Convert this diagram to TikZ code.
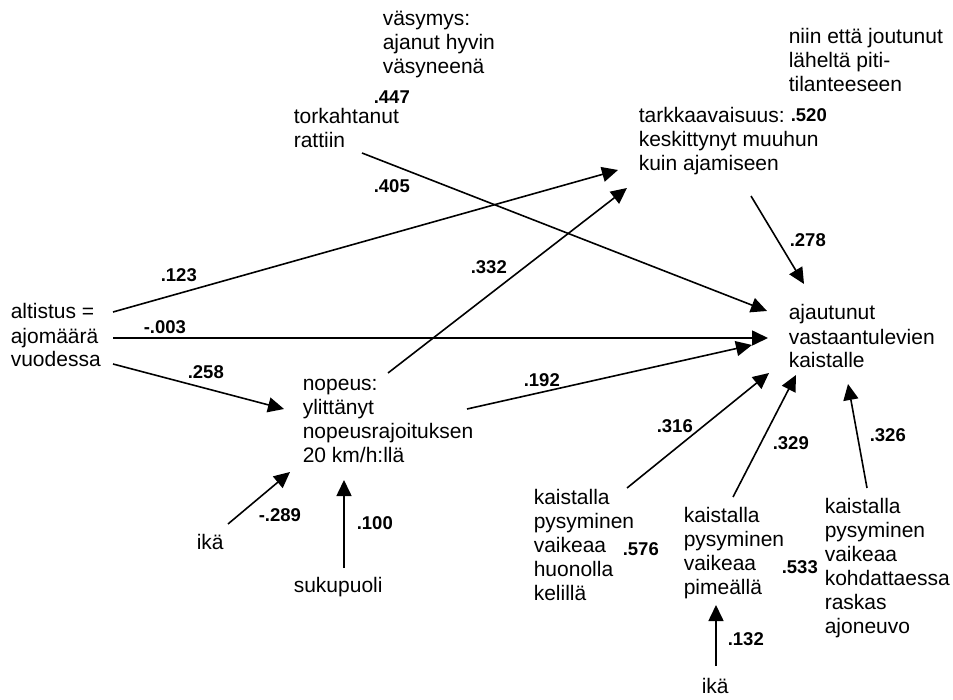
\documentclass[tikz,border=0pt]{standalone}
\usepackage{fontspec}
\setmainfont{Liberation Sans}
\usetikzlibrary{arrows.meta}

\begin{document}
\begin{tikzpicture}[x=1pt, y=-1pt, line width=1.6pt, >={Triangle[length=16pt,width=15pt]}]
            \useasboundingbox (0,0) rectangle (953,700);
            % texts, placed at the baseline of their last line
            \begin{scope}[every node/.style={anchor=base west, align=left, inner sep=0pt, font=\fontsize{21}{24}\selectfont}]
            \node (vasy) at (382,74) {väsymys:\\ajanut hyvin\\väsyneenä};
            \node (tork) at (293,148) {torkahtanut\\rattiin};
            \node (niin) at (788,92) {niin että joutunut\\läheltä piti-\\tilanteeseen};
            \node (tark) at (638,171) {tarkkaavaisuus:\\keskittynyt muuhun\\kuin ajamiseen};
            \node (alt) at (10,367) {altistus =\\ajomäärä\\vuodessa};
            \node (ajau) at (788,368) {ajautunut\\vastaantulevien\\kaistalle};
            \node (nop) at (302,462) {nopeus:\\ylittänyt\\nopeusrajoituksen\\20 km/h:llä};
            \node (ika) at (196,549) {ikä};
            \node (suku) at (293,592) {sukupuoli};
            \node (kai1) at (533,600) {kaistalla\\pysyminen\\vaikeaa\\huonolla\\kelillä};
            \node (kai2) at (683,594) {kaistalla\\pysyminen\\vaikeaa\\pimeällä};
            \node (kai3) at (824,633) {kaistalla\\pysyminen\\vaikeaa\\kohdattaessa\\raskas\\ajoneuvo};
            \node (ikab) at (701,693) {ikä};
            \end{scope}
            \begin{scope}[every node/.style={anchor=base west, inner sep=0pt, font=\fontsize{18.5}{20}\selectfont\bfseries}]
            \node (r447) at (373,104) {.447};
            \node (r405) at (373,193) {.405};
            \node (r520) at (790,122) {.520};
            \node (r123) at (160,282) {.123};
            \node (r332) at (470,274) {.332};
            \node (r278) at (789,247) {.278};
            \node (r003) at (143,334) {-.003};
            \node (r258) at (187,378) {.258};
            \node (r192) at (523,387) {.192};
            \node (r316) at (656,432) {.316};
            \node (r329) at (772,449) {.329};
            \node (r326) at (869,441) {.326};
            \node (r289) at (258,521) {-.289};
            \node (r100) at (356,529) {.100};
            \node (r576) at (622,555) {.576};
            \node (r533) at (781,573) {.533};
            \node (r132) at (727,645) {.132};
            \end{scope}
            % arrow ends
            \coordinate (tork-o) at (362,153);
            \coordinate (ajau-i1) at (767,311);
            \coordinate (alt-o1) at (113,312);
            \coordinate (tark-i1) at (618,170);
            \coordinate (alt-o2) at (113,338);
            \coordinate (ajau-i2) at (768,338);
            \coordinate (alt-o3) at (113,364);
            \coordinate (nop-i1) at (284,409);
            \coordinate (nop-o1) at (388,373);
            \coordinate (tark-i2) at (627,188);
            \coordinate (nop-o2) at (467,409);
            \coordinate (ajau-i3) at (752,345);
            \coordinate (tark-o) at (751,196);
            \coordinate (ajau-i4) at (804,284);
            \coordinate (ika-o) at (228,524);
            \coordinate (nop-i2) at (290,472);
            \coordinate (suku-o) at (344,568);
            \coordinate (nop-i3) at (344,480);
            \coordinate (kai1-o) at (627,488);
            \coordinate (ajau-i5) at (769,373);
            \coordinate (kai2-o) at (733,497);
            \coordinate (ajau-i6) at (796,375);
            \coordinate (kai3-o) at (867,488);
            \coordinate (ajau-i7) at (848,384);
            \coordinate (ikab-o) at (716,666);
            \coordinate (kai2-i) at (716,605);
            \begin{scope}[every edge/.style={draw=black,->}]
            \draw  (tork-o) edge (ajau-i1);
            \draw  (alt-o1) edge (tark-i1);
            \draw  (alt-o2) edge (ajau-i2);
            \draw  (alt-o3) edge (nop-i1);
            \draw  (nop-o1) edge (tark-i2);
            \draw  (nop-o2) edge (ajau-i3);
            \draw  (tark-o) edge (ajau-i4);
            \draw  (ika-o) edge (nop-i2);
            \draw  (suku-o) edge (nop-i3);
            \draw  (kai1-o) edge (ajau-i5);
            \draw  (kai2-o) edge (ajau-i6);
            \draw  (kai3-o) edge (ajau-i7);
            \draw  (ikab-o) edge (kai2-i);
            \end{scope}
            \end{tikzpicture}
\end{document}
